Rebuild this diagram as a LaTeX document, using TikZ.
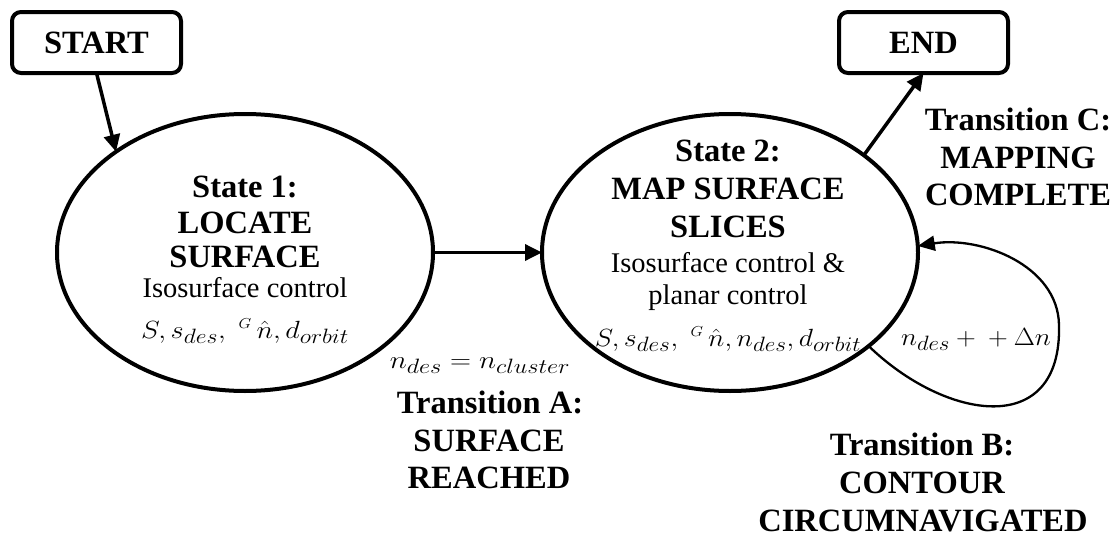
\documentclass[tikz,border=0pt]{standalone}
\usepackage{fontspec}
\usepackage{graphicx}
\setmainfont{Liberation Serif}
\usetikzlibrary{arrows.meta,shapes.geometric}
\newcommand\mwide[2]{\scalebox{#1}[1]{#2}}
\tikzset{
  every node/.style={inner sep=0pt, outer sep=0pt},
  termbox/.style={draw, line width=4pt, rounded corners=9pt, minimum width=169pt, minimum height=61pt},
  statebox/.style={draw, ellipse, line width=4pt, minimum width=376pt, minimum height=277pt},
  bt/.style={anchor=base, font=\fontsize{32.5}{36}\selectfont\bfseries},
  rt/.style={anchor=base, font=\fontsize{28.5}{34}\selectfont},
  mt/.style={anchor=base, font=\fontsize{28}{34}\selectfont},
  arr/.style={line width=3.5pt, -{Triangle[length=17pt, width=16pt]}},
  looparr/.style={line width=2.3pt, -{Triangle[length=17pt, width=15pt]}},
}
\begin{document}
\begin{tikzpicture}[x=1pt, y=1pt]
\useasboundingbox (0,0) rectangle (1117,-538);
% terminal boxes
\node[termbox] (start) at (96.5,-42.5) {};
\node[bt] (starttxt) at (96.5,-53) {START};
\node[termbox] (end) at (923.5,-42.5) {};
\node[bt] (endtxt) at (923.5,-53) {END};
% states
\node[statebox] (s1) at (245,-252.5) {};
\node[statebox] (s2) at (730,-252.5) {};
% state 1 text
\node[bt] (s1a) at (245,-197) {State 1:};
\node[bt] (s1b) at (245,-233) {LOCATE};
\node[bt] (s1c) at (245,-267) {SURFACE};
\node[rt] (s1d) at (245,-297) {Isosurface control};
\node[mt] (s1e) at (245,-338) {\mwide{1.14}{$S, s_{des},\ {}^{\scriptscriptstyle G}\mkern3mu\hat{n}, d_{orbit}$}};
% state 2 text
\node[bt] (s2a) at (728,-161) {State 2:};
\node[bt] (s2b) at (728,-199) {MAP SURFACE};
\node[bt] (s2c) at (728,-237) {SLICES};
\node[rt] (s2d) at (728,-272) {Isosurface control \&};
\node[rt] (s2e) at (728,-304) {planar control};
\node[mt] (s2f) at (728,-346) {\mwide{1.12}{$S, s_{des},\ {}^{\scriptscriptstyle G}\mkern3mu\hat{n}, n_{des}, d_{orbit}$}};
% transitions
\draw[arr] (start.south) -- (s1.142);
\draw[arr] (s1.east) -- (s2.west);
\draw[arr] (s2.36.5) -- (end.south);
\draw[looparr] (s2.-34.6) .. controls (945,-420) and (1062,-440) .. (1059,-325)
  .. controls (1058,-265) and (980,-236) .. (s2.2.7);
% labels
\node[mt] (la0) at (480,-368) {\mwide{1.17}{$n_{des} = n_{cluster}$}};
\node[bt] (la1) at (490,-413) {Transition A:};
\node[bt] (la2) at (489,-451) {SURFACE};
\node[bt] (la3) at (489,-488) {REACHED};
\node[mt] (lb0) at (976,-345) {\mwide{1.1}{$n_{des} + {} + \Delta n$}};
\node[bt] (lb1) at (922,-455) {Transition B:};
\node[bt] (lb2) at (922,-493) {CONTOUR};
\node[bt] (lb3) at (923,-531) {CIRCUMNAVIGATED};
\node[bt] (lc1) at (1018,-130) {Transition C:};
\node[bt] (lc2) at (1018,-168) {MAPPING};
\node[bt] (lc3) at (1018,-205) {COMPLETE};
\end{tikzpicture}
\end{document}
